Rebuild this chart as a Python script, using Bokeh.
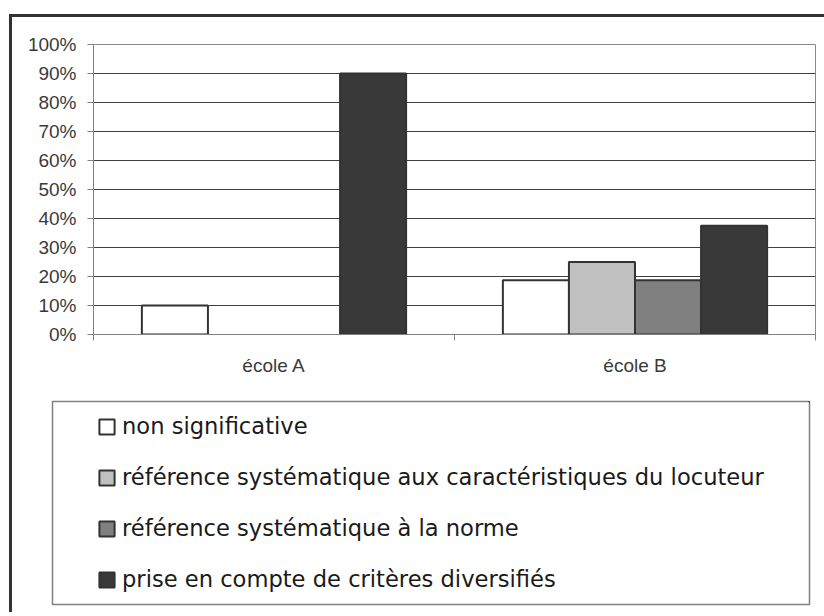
from bokeh.plotting import figure
from bokeh.layouts import column, row
from bokeh.models import (ColumnDataSource, Range1d, FixedTicker, Legend, LegendItem, Div)
from bokeh.embed import file_html
from bokeh.resources import INLINE

# ---- data -------------------------------------------------------------
categories = ["école A", "école B"]
series_names = [
    "non significative",
    "référence systématique aux caractéristiques du locuteur",
    "référence systématique à la norme",
    "prise en compte de critères diversifiés",
]
non_significative = [10, 18.75]
ref_locuteur = [0, 25]
ref_norme = [0, 18.75]
criteres_diversifies = [90, 37.5]
series_values = [non_significative, ref_locuteur, ref_norme, criteres_diversifies]
series_colors = ["#FFFFFF", "#C0C0C0", "#808080", "#393939"]
y_ticks = [0, 10, 20, 30, 40, 50, 60, 70, 80, 90, 100]
y_tick_labels = ["0%", "10%", "20%", "30%", "40%", "50%", "60%", "70%", "80%", "90%", "100%"]

BAR_LINE = "#333333"
FRAME_COLOR = "#333333"
FIG_W = 812
P_H, Q_H = 367, 228

# ---- chart figure -----------------------------------------------------
p = figure(width=FIG_W, height=P_H, output_backend="svg", toolbar_location=None,
           x_range=Range1d(0, len(categories)), y_range=Range1d(0, 100),
           min_border_left=81, min_border_right=9, min_border_top=27,
           min_border_bottom=50)
p.background_fill_color = "white"
p.border_fill_color = "white"
p.outline_line_color = "#8a8a8a"
p.outline_line_width = 1

bar_w = 0.183
for k, (vals, color) in enumerate(zip(series_values, series_colors)):
    xs = [i + 0.5 + (k - 1.5) * bar_w for i in range(len(categories))]
    # an empty (0 %) bar draws no outline on the baseline
    line_alpha = [1.0 if v > 0 else 0.0 for v in vals]
    src = ColumnDataSource(dict(x=xs, top=vals, la=line_alpha))
    p.vbar(x="x", top="top", bottom=0, width=bar_w, source=src,
           fill_color=color, line_color=BAR_LINE, line_width=2, line_alpha="la")

yax = p.yaxis[0]
yax.ticker = FixedTicker(ticks=y_ticks, minor_ticks=[])
yax.major_label_overrides = {t: l for t, l in zip(y_ticks, y_tick_labels)}
yax.axis_line_color = "#808080"
yax.major_tick_line_color = "#808080"
yax.major_tick_out = 6
yax.major_tick_in = 0
yax.minor_tick_line_color = None
yax.major_label_standoff = 11
yax.major_label_text_font = "Liberation Sans"
yax.major_label_text_font_size = "19px"
yax.major_label_text_color = "#3a3a3a"

xax = p.xaxis[0]
xax.ticker = FixedTicker(ticks=[i + 0.5 for i in range(len(categories))],
                         minor_ticks=list(range(len(categories) + 1)))
xax.major_label_overrides = {i + 0.5: c for i, c in enumerate(categories)}
xax.axis_line_color = "#808080"
xax.major_tick_line_color = None
xax.major_tick_out = 0
xax.major_tick_in = 0
xax.minor_tick_line_color = "#808080"
xax.minor_tick_out = 6
xax.minor_tick_in = 0
xax.major_label_standoff = 14
xax.major_label_text_font = "Liberation Sans"
xax.major_label_text_font_size = "19px"
xax.major_label_text_color = "#3a3a3a"

p.xgrid.grid_line_color = None
p.ygrid.ticker = FixedTicker(ticks=y_ticks)
p.ygrid.grid_line_color = "#404040"
p.ygrid.grid_line_width = 1

# ---- legend figure (its frame is the legend box) ----------------------
q = figure(width=FIG_W, height=Q_H, output_backend="svg", toolbar_location=None,
           x_axis_type=None, y_axis_type=None,
           x_range=Range1d(0, 1), y_range=Range1d(0, 1),
           min_border_left=40, min_border_right=15, min_border_top=17,
           min_border_bottom=8)
q.background_fill_color = "white"
q.border_fill_color = "white"
q.outline_line_color = "#808080"
q.outline_line_width = 1.5
q.grid.visible = False

# off-range dummy bars, only used to draw the legend swatches
swatches = []
for color in series_colors:
    r = q.vbar(x=[10], top=[10], bottom=[9], width=0.1, fill_color=color,
               line_color=BAR_LINE, line_width=2)
    swatches.append(r)

legend = Legend(
    items=[LegendItem(label=n, renderers=[r]) for n, r in zip(series_names, swatches)],
    location=(45, 12), orientation="vertical",
    border_line_color=None, background_fill_alpha=0,
    padding=0, margin=0, spacing=25,
    glyph_width=19, glyph_height=19, label_standoff=6, label_height=19,
    label_text_font="DejaVu Sans", label_text_font_size="22.6px",
    label_text_color="#1a1a1a",
)
q.add_layout(legend)

for fig in (p, q):
    if hasattr(fig, "frame_align"):
        fig.frame_align = False

# outer frame: a top strip and a left strip (right/bottom edges are cut off)
top_strip = Div(text="", width=FIG_W + 3, height=3, margin=0,
                styles={"background-color": FRAME_COLOR})
left_strip = Div(text="", width=3, height=P_H + Q_H, margin=0,
                 styles={"background-color": FRAME_COLOR})

layout = column(top_strip,
                row(left_strip, column(p, q, spacing=0), spacing=0),
                spacing=0, margin=(14, 0, 0, 9))

open("out.html", "w").write(file_html(layout, INLINE))
